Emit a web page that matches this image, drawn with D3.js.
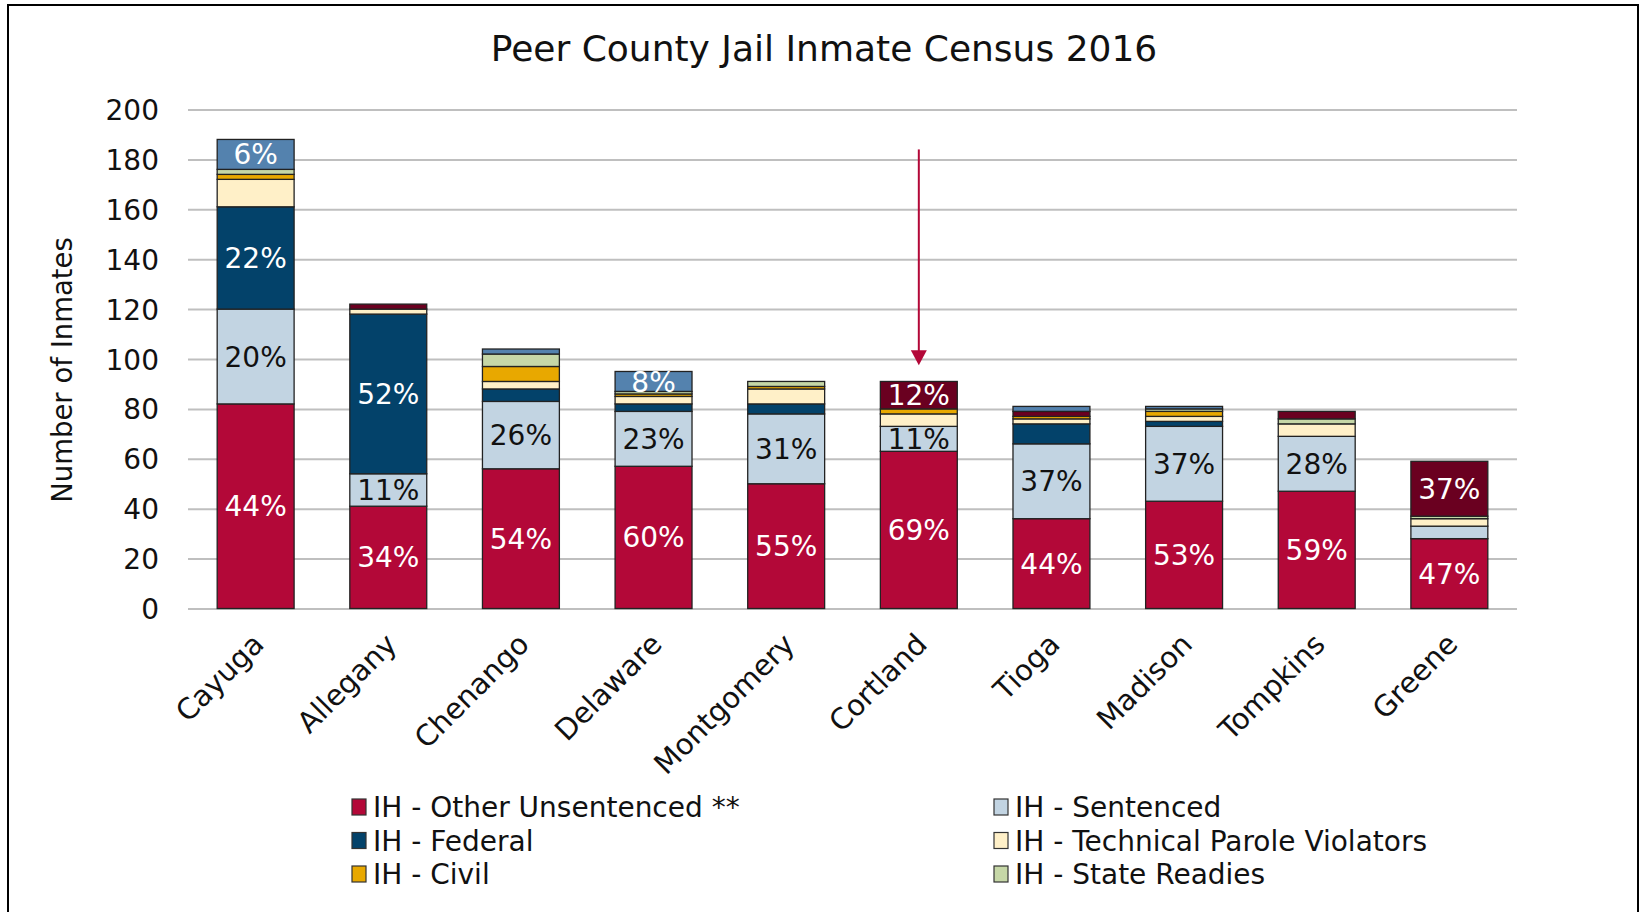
<!DOCTYPE html>
<html>
<head>
<meta charset="utf-8">
<script src="https://cdn.jsdelivr.net/npm/d3@7"></script>
<style>
  body { margin: 0; background: #fff; }
  svg { display: block; font-family: "DejaVu Sans", sans-serif; }
</style>
</head>
<body>
<div id="chart"></div>
<script>
// counties, in the order shown
var counties = ["Cayuga", "Allegany", "Chenango", "Delaware", "Montgomery", "Cortland", "Tioga", "Madison", "Tompkins", "Greene"];

// inmates per category
var otherUnsentenced = [82, 41, 56, 57, 50, 63, 36, 43, 47, 28];
var sentenced        = [38, 13, 27, 22, 28, 10, 30, 30, 22, 5];
var federal          = [41, 64, 5, 3, 4, 0, 8, 2, 0, 0];
var paroleViolators  = [11, 2, 3, 3, 6, 5, 2, 2, 5, 3];
var civil            = [2, 0, 6, 1, 1, 2, 1, 2, 0, 0];
var stateReadies     = [2, 0, 5, 1, 2, 0, 0, 1, 2, 1];
var boardedIn        = [0, 2, 0, 0, 0, 11, 2, 0, 3, 22];
var boardedOut       = [12, 0, 2, 8, 0, 0, 2, 1, 0, 0];

var seriesNames = ["IH - Other Unsentenced **", "IH - Sentenced", "IH - Federal", "IH - Technical Parole Violators",
                   "IH - Civil", "IH - State Readies", "Boarded In", "Boarded Out"];
var seriesValues = [otherUnsentenced, sentenced, federal, paroleViolators, civil, stateReadies, boardedIn, boardedOut];
var seriesColors = ["#b30838", "#c2d4e2", "#03426a", "#fff0c8", "#e8a800", "#c6d7a7", "#6a0020", "#5482ae"];
var labelColors  = ["#fff", "#111", "#fff", "#111", "#111", "#111", "#fff", "#fff"];

// which segments carry a percentage label  (county|series index)
var labelledSegments = [
  "Cayuga|0", "Cayuga|1", "Cayuga|2", "Cayuga|7",
  "Allegany|0", "Allegany|1", "Allegany|2",
  "Chenango|0", "Chenango|1",
  "Delaware|0", "Delaware|1", "Delaware|7",
  "Montgomery|0", "Montgomery|1",
  "Cortland|0", "Cortland|1", "Cortland|6",
  "Tioga|0", "Tioga|1",
  "Madison|0", "Madison|1",
  "Tompkins|0", "Tompkins|1",
  "Greene|0", "Greene|6"
];

// legend, two columns as in the picture
var legendLeft  = [0, 2, 4];
var legendRight = [1, 3, 5];

var yTicks = [0, 20, 40, 60, 80, 100, 120, 140, 160, 180, 200];
var arrowCounty = "Cortland";

/******************************draw chart***************************************/
var width = 1640, height = 912;

var svg = d3.select("#chart").append("svg")
	.attr("width", width)
	.attr("height", height);

// outer frame
svg.append("rect")
	.attr("x", 8).attr("y", 5)
	.attr("width", 1630).attr("height", 920)
	.style("fill", "none")
	.style("stroke", "#000")
	.style("stroke-width", 2);

var x = d3.scaleBand()
	.domain(counties)
	.range([188, 1517])
	.paddingInner(0.42)
	.paddingOuter(0.22);

var y = d3.scaleLinear()
	.domain([0, 200])
	.range([608.5, 109.5]);

// build table for the stack
var table = counties.map(function(c, i) {
	var row = { county: c, total: 0 };
	seriesValues.forEach(function(s, k) { row[k] = s[i]; row.total += s[i]; });
	return row;
});

var stack = d3.stack().keys(d3.range(seriesNames.length));
var layers = stack(table);

// grid + y axis
var yAxis = svg.append("g")
	.attr("transform", "translate(188,0)")
	.call(d3.axisLeft(y).tickValues(yTicks).tickSize(-1329).tickPadding(29));
yAxis.select(".domain").remove();
yAxis.selectAll(".tick line").style("stroke", "#bfbfbf").style("stroke-width", 2);
yAxis.selectAll(".tick text")
	.style("font-size", "28px")
	.style("font-family", "DejaVu Sans")
	.style("fill", "#111")
	.attr("dy", "0.36em");

svg.append("text")
	.attr("transform", "translate(72,370) rotate(-90)")
	.style("text-anchor", "middle")
	.style("font-size", "27.5px")
	.style("fill", "#111")
	.text("Number of Inmates");

// bars
var layer = svg.selectAll(".layer")
	.data(layers)
	.enter().append("g")
	.attr("class", "layer")
	.style("fill", function(d) { return seriesColors[d.key]; });

layer.selectAll("rect")
	.data(function(d) { return d.filter(function(p) { return p[1] - p[0] > 0; }); })
	.enter().append("rect")
	.attr("x", function(d) { return x(d.data.county); })
	.attr("width", x.bandwidth())
	.attr("y", function(d) { return y(d[1]); })
	.attr("height", function(d) { return y(d[0]) - y(d[1]); })
	.style("stroke", "#222")
	.style("stroke-width", 1.3);

// percentage labels
layers.forEach(function(ly) {
	ly.forEach(function(p) {
		var c = p.data.county;
		if (labelledSegments.indexOf(c + "|" + ly.key) < 0) return;
		var pct = Math.round((p[1] - p[0]) / p.data.total * 100);
		svg.append("text")
			.attr("x", x(c) + x.bandwidth() / 2)
			.attr("y", (y(p[0]) + y(p[1])) / 2)
			.attr("dy", "0.36em")
			.style("text-anchor", "middle")
			.style("font-size", "28px")
			.style("fill", labelColors[ly.key])
			.text(pct + "%");
	});
});

// x labels
svg.selectAll(".xlab")
	.data(counties)
	.enter().append("text")
	.attr("class", "xlab")
	.attr("transform", function(d) {
		return "translate(" + (x(d) + x.bandwidth() / 2 + 10) + ",646) rotate(-45)";
	})
	.style("text-anchor", "end")
	.style("font-size", "29px")
	.style("fill", "#111")
	.text(function(d) { return d; });

// title
svg.append("text")
	.attr("x", 824).attr("y", 61)
	.style("text-anchor", "middle")
	.style("font-size", "36px")
	.style("fill", "#111")
	.text("Peer County Jail Inmate Census 2016");

// arrow pointing at Cortland
var ax = x(arrowCounty) + x.bandwidth() / 2;
svg.append("line")
	.attr("x1", ax).attr("x2", ax)
	.attr("y1", y(184)).attr("y2", y(103))
	.style("stroke", "#b30838")
	.style("stroke-width", 2);
svg.append("path")
	.attr("d", "M" + (ax - 8) + "," + y(103.5) + "L" + (ax + 8) + "," + y(103.5) + "L" + ax + "," + y(97.5) + "Z")
	.style("fill", "#b30838");

// legend
function legendCol(idx, lx) {
	idx.forEach(function(k, i) {
		var ly = 807 + i * 33.5;
		svg.append("rect")
			.attr("x", lx).attr("y", ly - 8)
			.attr("width", 14).attr("height", 16)
			.style("fill", seriesColors[k])
			.style("stroke", "#333")
			.style("stroke-width", 1.2);
		svg.append("text")
			.attr("x", lx + 21).attr("y", ly)
			.attr("dy", "0.36em")
			.style("font-size", "28px")
			.style("fill", "#111")
			.text(seriesNames[k]);
	});
}
legendCol(legendLeft, 352);
legendCol(legendRight, 994);
</script>
</body>
</html>
